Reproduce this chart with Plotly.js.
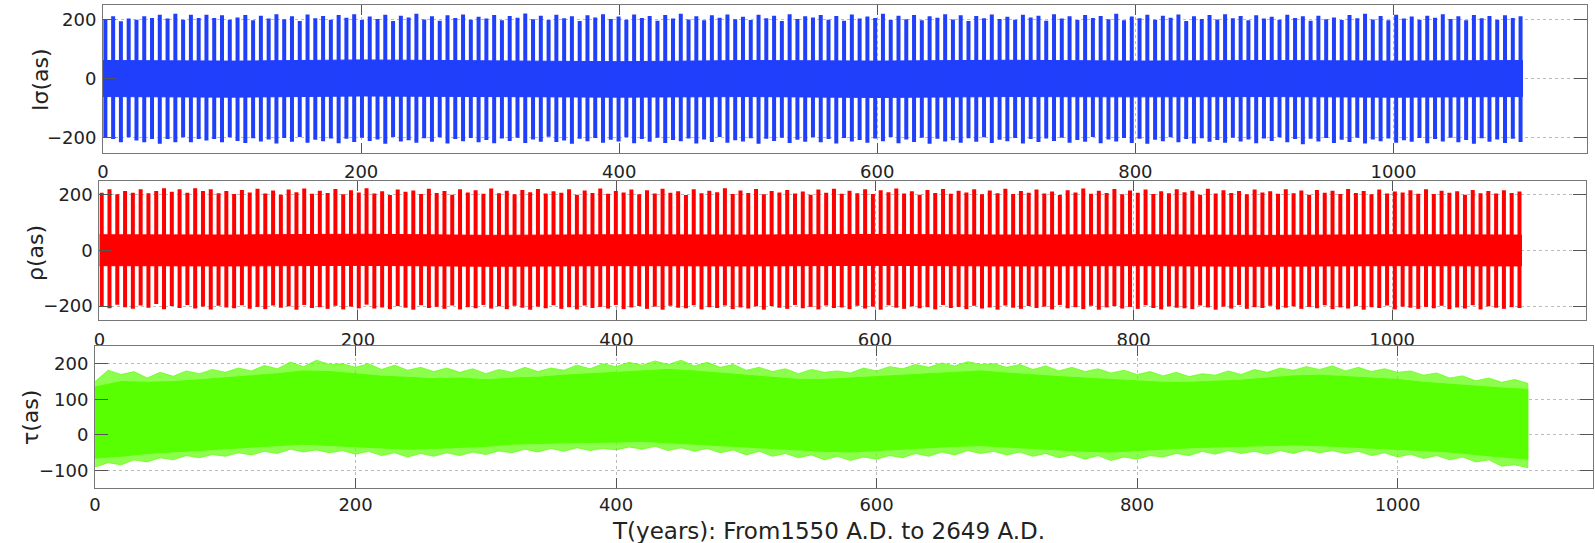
<!DOCTYPE html>
<html><head><meta charset="utf-8">
<script src="https://cdn.plot.ly/plotly-3.0.1.min.js"></script>
<style>html,body{margin:0;padding:0;background:#fff}#chart{width:1595px;height:543px}</style>
</head><body><div id="chart"></div>
<script>
// ---- data ----
// spike peaks of the fast oscillation (first spike at ~1.8 yr, last at ~1098.5 yr, evenly spaced)
const spikeStart = 1.8, spikeEnd = 1098.5;
const sigmaTop = [200,212,195,204,200,212,206,217,204,220,
200,217,206,217,206,215,200,208,216,198,
214,204,219,202,212,196,218,205,213,200,
216,207,219,199,211,203,217,196,214,208,
220,201,212,197,215,206,218,200,210,204,
216,198,213,207,221,202,214,199,217,205,
212,196,215,208,219,203,211,200,218,206,
213,197,216,204,220,201,212,198,215,207,
218,202,210,199,217,205,214,196,219,203,
212,208,216,200,213,197,218,204,211,206,
220,199,214,202,216,198,212,207,219,201,
215,196,213,205,218,203,210,200,217,208,
214,197,219,204,212,199,216,206,213,202,
220,198,211,205,217,200,214,207,218,196,
212,203,216,201,219,205,213,198,215,204,
210,200,217,206,212,197,214,202,208,199,
216,205,220,201,213,198,217,204,211,200,
214,207,219,203,212,198,216,205,213,200,
215,206,212];
const sigmaBottom = [-198,-204,-215,-198,-209,-215,-204,-220,-204,-215,
-198,-215,-204,-209,-204,-215,-198,-210,-217,-201,
-212,-205,-219,-200,-213,-197,-216,-206,-211,-202,
-218,-203,-214,-199,-210,-205,-220,-197,-212,-208,
-216,-201,-213,-198,-219,-204,-211,-200,-215,-207,
-218,-202,-210,-199,-217,-205,-213,-196,-214,-209,
-220,-203,-211,-200,-216,-206,-212,-198,-218,-204,
-213,-199,-217,-207,-211,-202,-219,-205,-214,-197,
-216,-208,-212,-201,-220,-203,-210,-199,-217,-206,
-213,-198,-215,-204,-219,-200,-212,-207,-216,-202,
-211,-197,-218,-205,-214,-199,-220,-203,-212,-208,
-216,-201,-213,-198,-217,-206,-211,-200,-219,-204,
-214,-202,-210,-199,-216,-207,-213,-197,-218,-205,
-212,-200,-217,-203,-220,-206,-211,-198,-215,-204,
-219,-201,-213,-207,-216,-199,-212,-205,-218,-202,
-210,-198,-215,-204,-221,-203,-212,-200,-217,-206,
-214,-199,-219,-205,-211,-202,-216,-208,-213,-200,
-218,-204,-212,-199,-215,-207,-220,-201,-213,-205,
-217,-203,-214];
const rhoTop = [207,219,201,213,207,219,205,213,223,210,
219,207,223,213,219,205,213,202,217,208,
221,204,215,200,218,209,222,203,214,206,
220,201,216,208,223,204,212,199,218,210,
215,202,221,206,213,200,219,208,216,203,
222,205,214,201,217,209,220,204,212,207,
219,200,215,206,222,203,213,208,218,201,
216,204,221,207,212,199,219,205,214,209,
223,202,215,206,220,201,213,208,217,204,
211,200,218,207,221,203,214,205,219,202,
216,209,222,204,212,200,217,206,220,203,
214,208,219,201,215,205,221,202,213,207,
218,204,211,199,216,208,222,203,214,206,
220,201,215,207,218,202,212,205,219,209,
214,200,221,204,216,206,213,201,218,208,
212,203,219,205,215,200,217,207,214,202,
220,206,213,201,218,204,211,208,216,203,
219,202,214,207,212,200,217,205,213,204,
216,206,211];
const rhoBottom = [-200,-208,-195,-204,-210,-198,-206,-193,-211,-200,
-207,-196,-209,-202,-212,-199,-205,-208,-197,-210,
-203,-211,-198,-206,-201,-213,-196,-207,-204,-210,
-199,-212,-202,-208,-195,-209,-205,-211,-200,-206,
-213,-197,-207,-203,-210,-198,-212,-204,-208,-196,
-209,-201,-211,-199,-206,-213,-202,-208,-197,-210,
-204,-212,-198,-207,-203,-209,-196,-211,-205,-200,
-210,-202,-213,-199,-206,-208,-197,-212,-204,-207,
-198,-211,-205,-209,-201,-213,-200,-206,-210,-196,
-208,-203,-212,-198,-207,-205,-211,-199,-209,-202,
-213,-197,-206,-210,-201,-208,-204,-212,-196,-207,
-203,-211,-199,-209,-205,-213,-198,-206,-210,-200,
-207,-202,-212,-196,-208,-204,-211,-199,-213,-205,
-200,-209,-203,-210,-197,-207,-212,-201,-206,-208,
-211,-198,-205,-213,-202,-209,-196,-210,-204,-207,
-199,-212,-206,-201,-210,-203,-208,-197,-211,-205,
-209,-200,-213,-204,-207,-198,-212,-202,-206,-210,
-203,-208,-199,-211,-205,-209,-197,-212,-201,-206,
-210,-204,-207];
// dense inner band between the spikes (every 100 years)
const bandYears = [0,100,200,300,400,500,600,700,800,900,1000,1100];
const sigmaBandTop = [62,60,64,60,58,62,60,63,60,62,60,62];
const sigmaBandBottom = [-60,-62,-58,-60,-62,-60,-63,-60,-61,-60,-62,-60];
const rhoBandTop = [56,55,58,54,56,55,57,55,56,54,56,55];
const rhoBandBottom = [-55,-56,-54,-57,-55,-56,-54,-56,-55,-57,-55,-56];
// tau: outer (fringe) envelope every 10 years, solid core every 20 years
const tauYears = [];
for (let y = 0; y <= 1100; y += 10) tauYears.push(y);
const tauCoreYears = [];
for (let y = 0; y <= 1100; y += 20) tauCoreYears.push(y);
const tauTop = [150,182,170,178,160,176,165,180,172,184,
176,188,180,195,186,205,192,210,198,200,
190,200,184,196,182,190,178,188,176,186,
172,184,176,190,178,188,182,196,186,200,
192,204,196,208,198,210,194,204,190,198,
182,190,178,186,172,184,176,180,174,188,
180,192,186,198,190,202,194,206,198,200,
190,198,184,194,180,190,178,186,174,182,
170,178,166,176,164,172,168,180,170,184,
176,188,182,192,184,194,180,190,178,186,
176,180,168,174,160,166,152,160,148,156,145];
const tauBottom = [-90,-78,-84,-70,-76,-64,-70,-58,-64,-55,
-60,-50,-56,-46,-52,-40,-48,-42,-50,-44,
-54,-46,-58,-50,-62,-52,-60,-50,-58,-48,
-55,-45,-50,-40,-48,-38,-46,-36,-44,-38,
-42,-34,-40,-32,-44,-36,-46,-38,-50,-42,
-56,-46,-60,-52,-64,-56,-70,-60,-72,-62,
-68,-58,-64,-52,-60,-48,-56,-44,-52,-46,
-56,-48,-60,-52,-64,-56,-68,-58,-72,-62,
-68,-58,-62,-52,-58,-46,-54,-44,-52,-46,
-54,-44,-52,-42,-50,-44,-52,-46,-58,-50,
-62,-54,-66,-58,-70,-62,-76,-70,-88,-84,-92];
const tauCoreTop = [135,150,148,150,155,160,165,172,180,178,
172,165,162,158,160,155,160,162,168,172,
176,182,184,180,174,166,160,156,156,160,
164,170,174,178,180,174,168,164,160,156,
152,148,148,150,154,160,166,168,164,160,
156,148,142,136,132,128];
const tauCoreBottom = [-65,-60,-52,-46,-42,-38,-34,-30,-26,-28,
-32,-36,-40,-38,-36,-32,-26,-24,-22,-20,
-20,-18,-22,-24,-28,-34,-38,-42,-46,-48,
-44,-40,-36,-32,-30,-34,-38,-42,-46,-48,
-44,-40,-36,-32,-30,-30,-28,-30,-32,-36,
-40,-44,-48,-54,-62,-68];
const xTicks = [0,200,400,600,800,1000];

// ---- styles ----
const BLUE = '#1f3ffb', RED = '#ff0000', GREEN = '#58ff00', GREEN_FRINGE = 'rgba(95,255,10,0.72)';
const FONT = 'DejaVu Sans, Verdana, sans-serif';

function spikes(tops, bots, color, xa, ya) {
  const n = tops.length, xs = [], ys = [];
  for (let i = 0; i < n; i++) {
    const t = spikeStart + (spikeEnd - spikeStart) * i / (n - 1);
    xs.push(t, t, null); ys.push(tops[i], bots[i], null);
  }
  return {type:'scatter', mode:'lines', x:xs, y:ys, connectgaps:false,
    line:{color:color, width:4}, xaxis:xa, yaxis:ya, hoverinfo:'skip', showlegend:false};
}
function band(xv, top, bot, color, xa, ya) {
  return {type:'scatter', mode:'lines', x:xv.concat(xv.slice().reverse()),
    y:top.concat(bot.slice().reverse()), fill:'toself', fillcolor:color,
    line:{color:color, width:1}, xaxis:xa, yaxis:ya, hoverinfo:'skip', showlegend:false};
}

const data = [
  band(bandYears, sigmaBandTop, sigmaBandBottom, BLUE, 'x', 'y'),
  spikes(sigmaTop, sigmaBottom, BLUE, 'x', 'y'),
  band(bandYears, rhoBandTop, rhoBandBottom, RED, 'x2', 'y2'),
  spikes(rhoTop, rhoBottom, RED, 'x2', 'y2'),
  band(tauYears, tauTop, tauBottom, GREEN_FRINGE, 'x3', 'y3'),
  band(tauCoreYears, tauCoreTop, tauCoreBottom, GREEN, 'x3', 'y3')
];

const axCommon = {
  showline:true, mirror:'ticks', linecolor:'#777', linewidth:1,
  ticks:'inside', tickcolor:'#555', tickwidth:1,
  showgrid:true, gridcolor:'#bbbbbb', griddash:'dot', gridwidth:1,
  zeroline:false, fixedrange:true
};
function xa(domain, anchor, standoff) {
  return Object.assign({}, axCommon, {domain:domain, anchor:anchor, range:[0,1150],
    tickvals:xTicks, ticklen:10, ticklabelstandoff:standoff,
    tickfont:{family:FONT, size:18, color:'#222'}});
}
function ya(domain, anchor, range, tv) {
  return Object.assign({}, axCommon, {domain:domain, anchor:anchor, range:range,
    tickvals:tv, ticklen:13, ticklabelstandoff:2,
    tickfont:{family:FONT, size:18, color:'#222'}});
}
const titleFont = {family:FONT, size:22, color:'#222'};
function ytitle(text, xpx, ypx) {
  return {text:text, xref:'paper', yref:'paper', x:xpx/1595, y:1 - ypx/543,
    xanchor:'center', yanchor:'middle', textangle:-90, showarrow:false, font:titleFont};
}

const layout = {
  width:1595, height:543, margin:{l:0, r:0, t:0, b:0},
  paper_bgcolor:'#fff', plot_bgcolor:'#fff', showlegend:false,
  xaxis: xa([0.0646,0.9950], 'y', 3),
  yaxis: ya([0.7188,0.9908], 'x', [-250,250], [-200,0,200]),
  xaxis2: xa([0.0623,0.9944], 'y2', 3),
  yaxis2: ya([0.4107,0.6672], 'x2', [-250,250], [-200,0,200]),
  xaxis3: xa([0.0596,0.9987], 'y3', 0),
  yaxis3: ya([0.1007,0.3628], 'x3', [-150,250], [-100,0,100,200]),
  annotations:[
    ytitle('Iσ(as)', 40, 80),
    ytitle('ρ(as)', 35, 253),
    ytitle('τ(as)', 30, 418),
    {text:'T(years): From1550 A.D. to 2649 A.D.', xref:'paper', yref:'paper',
     x:828/1595, y:1 - 531/543, xanchor:'center', yanchor:'middle', showarrow:false,
     font:{family:FONT, size:23, color:'#222'}}]
};
Plotly.newPlot('chart', data, layout, {staticPlot:true, displayModeBar:false});
</script></body></html>
